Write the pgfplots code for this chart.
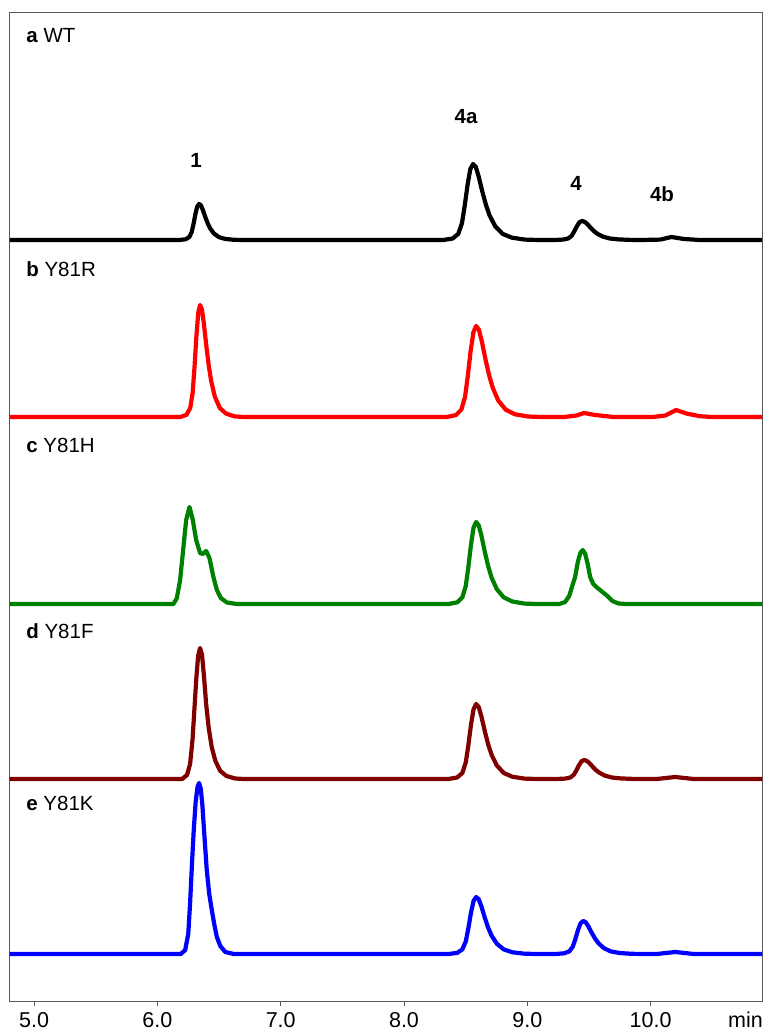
\documentclass[border=0pt]{standalone}
\usepackage{pgfplots}
\pgfplotsset{compat=1.18}
\usepackage{fontspec}
\setmainfont{Liberation Sans}
\definecolor{dkred}{RGB}{128,0,0}
\definecolor{grn}{RGB}{0,128,0}
\definecolor{axgray}{RGB}{90,90,90}
\begin{document}
\begin{tikzpicture}
\begin{axis}[name=ax, scale only axis, width=752.5pt, height=989pt,
 xmin=4.80, xmax=10.904, ymin=0, ymax=989,
 axis line style={draw=axgray, line width=0.9pt},
 ytick=\empty, xtick={5,6,7,8,9,10}, xticklabels={5.0,6.0,7.0,8.0,9.0,10.0},
 extra x ticks={10.77}, extra x tick labels={min}, extra x tick style={tick style={draw=none}},
 tick align=outside, xtick pos=bottom, major tick length=4.5pt,
 tick style={draw=axgray, line width=0.9pt},
 xticklabel style={font=\fontsize{21.5}{24}\selectfont, anchor=base, yshift=-22pt},
 every axis plot/.append style={line width=4.2pt, line join=round, line cap=round},
 clip=true]
% a WT
\addplot[black] coordinates {(4.80,761) (6.178,761) (6.228,761.7) (6.258,763.9) (6.278,768.9) (6.293,777.2) (6.308,786.9) (6.323,794.5) (6.338,797) (6.353,795.6) (6.368,791.2) (6.388,784.0) (6.408,777.6) (6.428,772.5) (6.458,767.5) (6.498,763.9) (6.548,762.1) (6.618,761.2) (6.688,761)
 (8.320,761) (8.395,762.5) (8.440,767.1) (8.470,777.7) (8.4925,795.2) (8.515,815.7) (8.5375,831.7) (8.560,837) (8.5825,834.0) (8.605,824.8) (8.635,809.6) (8.665,796.0) (8.695,785.3) (8.740,774.7) (8.800,767.1) (8.875,763.3) (8.980,761.4) (9.085,761)
 (9.220,761) (9.290,761.4) (9.332,762.5) (9.360,765.2) (9.381,769.6) (9.402,774.7) (9.423,778.7) (9.444,780) (9.465,779.2) (9.486,777.0) (9.514,773.2) (9.542,769.7) (9.570,767.1) (9.612,764.4) (9.668,762.5) (9.738,761.6) (9.836,761.1) (9.934,761)
 (10.08,761.4) (10.17,764) (10.27,762) (10.40,761) (10.904,761)};
% b Y81R
\addplot[red] coordinates {(4.80,584) (6.186,584) (6.236,586.2) (6.266,593.0) (6.286,608.6) (6.301,634.4) (6.316,664.6) (6.331,688.2) (6.346,696) (6.361,691.5) (6.376,678.1) (6.396,655.7) (6.416,635.5) (6.436,619.8) (6.466,604.2) (6.506,593.0) (6.556,587.4) (6.626,584.6) (6.696,584)
 (8.345,584) (8.420,585.8) (8.465,591.3) (8.495,604.0) (8.5175,625.0) (8.540,649.5) (8.5625,668.6) (8.585,675) (8.6075,671.4) (8.630,660.4) (8.660,642.2) (8.690,625.9) (8.720,613.1) (8.765,600.4) (8.825,591.3) (8.900,586.7) (9.005,584.5) (9.110,584)
 (9.30,584) (9.40,585.5) (9.46,588) (9.55,586) (9.70,584)
 (10.02,584) (10.12,585.5) (10.207,591) (10.29,587.5) (10.40,584.8) (10.50,584) (10.904,584)};
% c Y81H
\addplot[grn] coordinates {(4.80,397) (6.130,397) (6.157,402.7) (6.184,421) (6.211,454) (6.233,481) (6.260,494) (6.287,481) (6.314,461) (6.346,448) (6.368,447) (6.395,450) (6.422,443) (6.454,424) (6.482,411) (6.514,403) (6.563,398.5) (6.644,397)
 (8.361,397) (8.431,398.6) (8.473,403.6) (8.501,415.0) (8.522,433.9) (8.543,456.0) (8.564,473.3) (8.585,479) (8.606,475.7) (8.627,465.9) (8.655,449.5) (8.683,434.7) (8.711,423.2) (8.753,411.8) (8.809,403.6) (8.879,399.5) (8.977,397.4) (9.075,397)
 (9.260,397) (9.307,399) (9.340,405) (9.365,415) (9.388,424) (9.410,439) (9.430,448) (9.450,451) (9.470,447) (9.490,437) (9.510,424) (9.535,417) (9.560,414) (9.590,411) (9.620,408) (9.650,405) (9.690,400) (9.740,397.5) (9.800,397) (10.904,397)};
% d Y81F
\addplot[dkred] coordinates {(4.80,222) (6.200,222) (6.240,226) (6.265,237) (6.285,262) (6.300,292) (6.315,322) (6.330,345) (6.346,353) (6.362,346) (6.378,324) (6.395,297) (6.415,274) (6.440,254) (6.470,240) (6.510,230) (6.560,225) (6.630,222.5) (6.700,222)
 (8.361,222) (8.431,223.5) (8.473,228) (8.501,238.5) (8.522,255.75) (8.543,276) (8.564,291.75) (8.585,297) (8.606,294) (8.627,285) (8.655,270) (8.683,256.5) (8.711,246) (8.753,235.5) (8.809,228) (8.879,224.25) (8.977,222.4) (9.075,222)
 (9.237,222) (9.307,222.4) (9.349,223.5) (9.377,226.2) (9.398,230.6) (9.419,235.7) (9.440,239.7) (9.461,241) (9.482,240.2) (9.503,238.0) (9.531,234.2) (9.559,230.7) (9.587,228.1) (9.629,225.4) (9.685,223.5) (9.755,222.6) (9.853,222.1) (9.951,222)
 (10.05,222) (10.2,224) (10.35,222) (10.904,222)};
% e Y81K
\addplot[blue] coordinates {(4.80,47) (6.190,47) (6.225,51) (6.250,67) (6.265,98) (6.280,137) (6.295,172) (6.310,199) (6.325,214) (6.338,218) (6.352,212) (6.365,195) (6.380,167) (6.400,131) (6.420,107) (6.441,91) (6.462,76) (6.482,64) (6.510,55) (6.550,49) (6.620,47)
 (8.361,47) (8.431,48.1) (8.473,51.6) (8.501,59.5) (8.522,72.7) (8.543,88.0) (8.564,100.0) (8.585,104) (8.606,101.7) (8.627,94.9) (8.655,83.5) (8.683,73.2) (8.711,65.2) (8.753,57.3) (8.809,51.6) (8.879,48.7) (8.977,47.3) (9.075,47)
 (9.229,47) (9.299,47.7) (9.341,49.6) (9.369,54.3) (9.390,61.9) (9.411,70.8) (9.432,77.7) (9.453,80) (9.474,78.7) (9.495,74.7) (9.523,68.1) (9.551,62.2) (9.579,57.6) (9.621,52.9) (9.677,49.6) (9.747,48.0) (9.845,47.2) (9.943,47)
 (10.05,47) (10.2,49) (10.35,47) (10.904,47)};
% panel labels
\node[anchor=base west, font=\fontsize{20.5}{23}\selectfont] at (axis cs:4.908,958) {\textbf{a} WT};
\node[anchor=base west, font=\fontsize{20.5}{23}\selectfont] at (axis cs:4.908,724) {\textbf{b} Y81R};
\node[anchor=base west, font=\fontsize{20.5}{23}\selectfont] at (axis cs:4.908,548) {\textbf{c} Y81H};
\node[anchor=base west, font=\fontsize{20.5}{23}\selectfont] at (axis cs:4.908,362) {\textbf{d} Y81F};
\node[anchor=base west, font=\fontsize{20.5}{23}\selectfont] at (axis cs:4.908,190) {\textbf{e} Y81K};
% peak labels
\node[anchor=base, font=\bfseries\fontsize{20.5}{23}\selectfont] at (axis cs:6.314,833) {1};
\node[anchor=base, font=\bfseries\fontsize{20.5}{23}\selectfont] at (axis cs:8.504,877) {4a};
\node[anchor=base, font=\bfseries\fontsize{20.5}{23}\selectfont] at (axis cs:9.396,810) {4};
\node[anchor=base, font=\bfseries\fontsize{20.5}{23}\selectfont] at (axis cs:10.093,799) {4b};
\end{axis}
\pgfresetboundingbox
\path[use as bounding box] ([xshift=-9.5pt,yshift=-31pt]ax.south west) rectangle ([xshift=4pt,yshift=12pt]ax.north east);
\end{tikzpicture}
\end{document}
